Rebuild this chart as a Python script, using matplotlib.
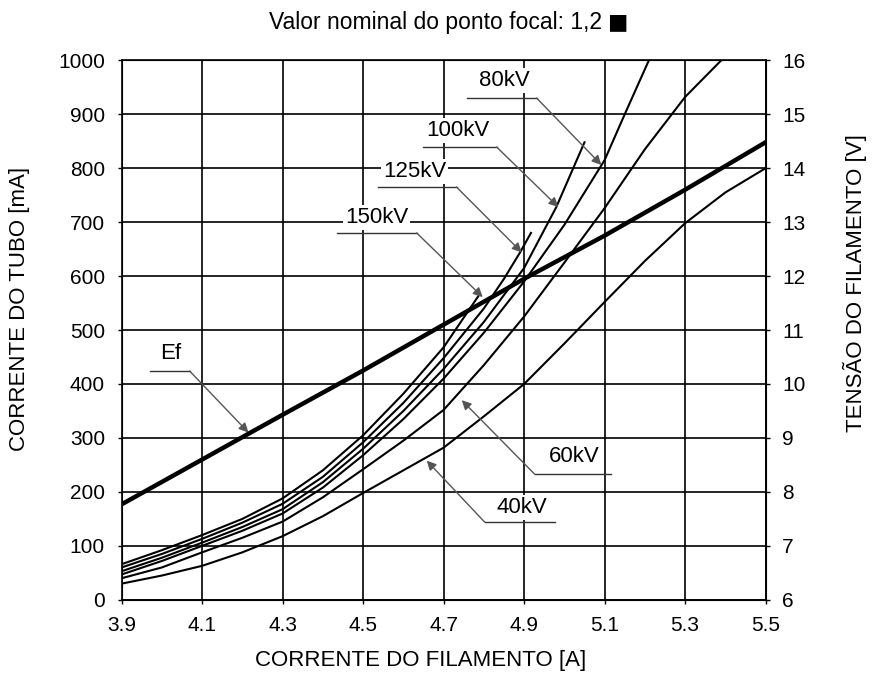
import matplotlib
matplotlib.use("Agg")
import matplotlib.pyplot as plt

plt.rcParams['font.family'] = ['Liberation Sans', 'DejaVu Sans']

# filament current [A] -> tube current [mA] for each kV curve
x_150 = [3.9, 4.0, 4.1, 4.2, 4.3, 4.4, 4.5, 4.6, 4.7, 4.79]
y_150 = [66, 92, 120, 150, 188, 240, 305, 382, 468, 567]

x_125 = [3.9, 4.0, 4.1, 4.2, 4.3, 4.4, 4.5, 4.6, 4.7, 4.8, 4.85, 4.89, 4.917]
y_125 = [60, 85, 113, 143, 178, 228, 292, 365, 448, 540, 595, 644, 680]

x_100 = [3.9, 4.0, 4.1, 4.2, 4.3, 4.4, 4.5, 4.6, 4.7, 4.8, 4.9, 4.98, 5.05]
y_100 = [53, 78, 106, 135, 168, 218, 280, 350, 428, 515, 615, 728, 848]

x_80 = [3.9, 4.0, 4.1, 4.2, 4.3, 4.4, 4.5, 4.6, 4.7, 4.8, 4.9, 5.0, 5.1, 5.15, 5.21]
y_80 = [47, 72, 100, 128, 160, 208, 268, 335, 410, 495, 590, 695, 815, 900, 1000]

x_60 = [3.9, 4.0, 4.1, 4.2, 4.3, 4.4, 4.5, 4.6, 4.7, 4.8, 4.9, 5.0, 5.1, 5.2, 5.3, 5.39]
y_60 = [40, 60, 88, 115, 145, 190, 242, 295, 352, 435, 525, 625, 726, 835, 932, 1000]

x_40 = [3.9, 4.0, 4.1, 4.2, 4.3, 4.4, 4.5, 4.6, 4.7, 4.8, 4.9, 5.0, 5.1, 5.2, 5.3, 5.4, 5.5]
y_40 = [30, 45, 63, 88, 118, 155, 198, 240, 282, 340, 400, 475, 552, 628, 698, 755, 800]

# filament voltage Ef [V]
x_ef = [3.9, 4.1, 4.3, 4.5, 4.7, 4.9, 5.1, 5.3, 5.5]
v_ef = [7.77, 8.6, 9.43, 10.25, 11.1, 11.95, 12.75, 13.6, 14.48]

x_ticks = [3.9, 4.1, 4.3, 4.5, 4.7, 4.9, 5.1, 5.3, 5.5]
ma_ticks = list(range(0, 1001, 100))
v_ticks = list(range(6, 17))

fig = plt.figure(figsize=(8.75, 6.77), dpi=100)
ax = fig.add_axes([0.139, 0.114, 0.736, 0.797])

for xs, ys in [(x_150, y_150), (x_125, y_125), (x_100, y_100),
               (x_80, y_80), (x_60, y_60), (x_40, y_40)]:
    ax.plot(xs, ys, color='black', lw=1.5, zorder=3)

ax.set_xlim(3.9, 5.5)
ax.set_ylim(0, 1000)
ax.set_xticks(x_ticks)
ax.set_yticks(ma_ticks)
ax.set_xticklabels([str(t) for t in x_ticks])
ax.grid(True, color='black', lw=1.2)
ax.set_axisbelow(True)
ax.tick_params(axis='both', labelsize=15, length=3, width=1)
ax.tick_params(axis='y', pad=9)
ax.tick_params(axis='x', pad=9)
for s in ax.spines.values():
    s.set_linewidth(1.2)

ax2 = ax.twinx()
ax2.plot(x_ef, v_ef, color='black', lw=3.2, zorder=3)
ax2.set_ylim(6, 16)
ax2.set_yticks(v_ticks)
ax2.tick_params(axis='y', labelsize=15, length=3, width=1, pad=9)


def label(txt, tx, ty, u0, u1, uy, tip, right=True):
    ax.text(tx, ty, txt, fontsize=16, ha='center', va='center', zorder=4,
            bbox=dict(facecolor='white', edgecolor='none', pad=1.5))
    ax.plot([u0, u1], [uy, uy], color='#333333', lw=1.0, zorder=4)
    start = (u1, uy) if right else (u0, uy)
    ax.annotate('', xy=tip, xytext=start, zorder=4,
                arrowprops=dict(arrowstyle='-|>', color='#555555', lw=1.0,
                                mutation_scale=14, shrinkA=0, shrinkB=0))


label('80kV', 4.851, 963, 4.759, 4.931, 930, (5.092, 806))
label('100kV', 4.735, 870, 4.648, 4.832, 839, (4.985, 728))
label('125kV', 4.628, 793, 4.536, 4.732, 765, (4.894, 644))
label('150kV', 4.533, 709, 4.434, 4.633, 680, (4.797, 561))
label('Ef', 4.022, 457, 3.97, 4.069, 424, (4.215, 310))
label('60kV', 5.025, 265, 4.926, 5.117, 233, (4.745, 370), right=False)
label('40kV', 4.894, 172, 4.802, 4.976, 144, (4.658, 258), right=False)

fig.text(0.688, 0.967, 'Valor nominal do ponto focal: 1,2', fontsize=16.5,
         ha='right', va='center')
fig.text(0.694, 0.968, '\u25a0', fontsize=15.5, ha='left', va='center',
         family='DejaVu Sans')
fig.text(0.481, 0.024, 'CORRENTE DO FILAMENTO [A]', fontsize=16,
         ha='center', va='center')
fig.text(0.022, 0.544, 'CORRENTE DO TUBO [mA]', fontsize=16,
         ha='center', va='center', rotation=90)
fig.text(0.977, 0.582, 'TENS\u00c3O DO FILAMENTO [V]', fontsize=16,
         ha='center', va='center', rotation=90)

fig.savefig('out.png', dpi=100)
